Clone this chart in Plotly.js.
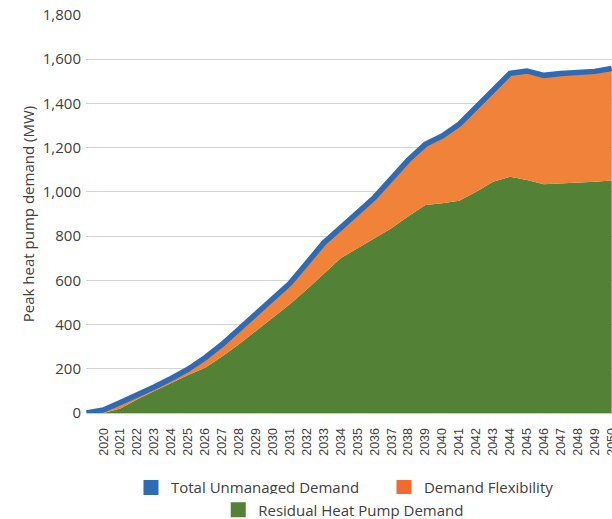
<!DOCTYPE html>
<html>
<head>
<meta charset="utf-8">
<script src="https://cdn.plot.ly/plotly-3.0.1.min.js"></script>
<style>
  body { margin: 0; overflow: hidden; background: #fff; }
  #graph { width: 612px; height: 519px; }
</style>
</head>
<body>
<div id="graph"></div>
<script>
// years on the axis (2019 is the unlabeled start at the left edge)
var years = [2019, 2020, 2021, 2022, 2023, 2024, 2025, 2026, 2027, 2028, 2029,
             2030, 2031, 2032, 2033, 2034, 2035, 2036, 2037, 2038, 2039,
             2040, 2041, 2042, 2043, 2044, 2045, 2046, 2047, 2048, 2049, 2050];

// MW values
var residualDemand = [0, 0, 20, 62, 100, 137, 172, 205, 255, 311, 371,
                      432, 492, 559, 628, 700, 745, 790, 835, 890, 941,
                      949, 960, 1001, 1046, 1069, 1054, 1035, 1038, 1040, 1046, 1051];
var demandFlexibility = [0, 14, 28, 18, 18, 19, 26, 45, 55, 68, 75,
                         80, 94, 118, 141, 137, 160, 185, 225, 255, 274,
                         304, 346, 380, 413, 467, 493, 492, 497, 500, 499, 507];
var totalUnmanaged = [0, 14, 48, 80, 118, 156, 198, 250, 310, 379, 446,
                      512, 586, 677, 769, 837, 905, 975, 1060, 1145, 1215,
                      1253, 1306, 1381, 1459, 1536, 1547, 1527, 1535, 1540, 1545, 1558];

var tickYears = [2020, 2021, 2022, 2023, 2024, 2025, 2026, 2027, 2028, 2029,
                 2030, 2031, 2032, 2033, 2034, 2035, 2036, 2037, 2038, 2039,
                 2040, 2041, 2042, 2043, 2044, 2045, 2046, 2047, 2048, 2049, 2050];
var tickLabels = ["2020", "2021", "2022", "2023", "2024", "2025", "2026", "2027", "2028", "2029",
                  "2030", "2031", "2032", "2033", "2034", "2035", "2036", "2037", "2038", "2039",
                  "2040", "2041", "2042", "2043", "2044", "2045", "2046", "2047", "2048", "2049", "2050"];

var blue = "#2d6bb4";
var orange = "#f0823a";
var green = "#538135";
var textColor = "#404040";

drawGraph();

function drawGraph()
{
    var residual = {
        x: years, y: residualDemand,
        type: "scatter", mode: "lines", stackgroup: "demand",
        line: {width: 0, color: green}, fillcolor: green,
        showlegend: false, hoverinfo: "skip"
    };
    var flex = {
        x: years, y: demandFlexibility,
        type: "scatter", mode: "lines", stackgroup: "demand",
        line: {width: 0, color: orange}, fillcolor: orange,
        showlegend: false, hoverinfo: "skip"
    };
    var total = {
        x: years, y: totalUnmanaged,
        type: "scatter", mode: "lines",
        line: {width: 5.5, color: blue},
        showlegend: false, hoverinfo: "skip"
    };

    // legend entries (square swatches like the original)
    var keyTotal = {x: [null], y: [null], type: "scatter", mode: "markers", name: "Total Unmanaged Demand",
        marker: {symbol: "square", size: 15, color: blue}, legend: "legend"};
    var keyFlex = {x: [null], y: [null], type: "scatter", mode: "markers", name: "Demand Flexibility",
        marker: {symbol: "square", size: 15, color: "#f26a30"}, legend: "legend"};
    var keyResidual = {x: [null], y: [null], type: "scatter", mode: "markers", name: "Residual Heat Pump Demand",
        marker: {symbol: "square", size: 15, color: green}, legend: "legend2"};

    var data = [residual, flex, total, keyTotal, keyFlex, keyResidual];

    var layout = {
        width: 612,
        height: 519,
        margin: {l: 86, r: 0, t: 15, b: 106, autoexpand: false},
        paper_bgcolor: "#ffffff",
        plot_bgcolor: "#ffffff",
        font: {family: "Open Sans, sans-serif", color: textColor},
        xaxis: {
            type: "linear",
            range: [2018.97, 2050.02],
            tickvals: tickYears,
            ticktext: tickLabels,
            tickangle: -90,
            tickfont: {family: "Liberation Sans, Arial, sans-serif", size: 12.5, color: textColor},
            ticks: "",
            ticklabelstandoff: 9,
            ticklabeloverflow: "allow",
            showgrid: false,
            zeroline: false,
            showline: true,
            linecolor: "#c8c8c8",
            linewidth: 1
        },
        yaxis: {
            range: [0, 1800],
            dtick: 200,
            tickformat: ",d",
            tickfont: {size: 15, color: textColor},
            ticks: "",
            ticklabelstandoff: 4,
            gridcolor: "#d4d4d4",
            gridwidth: 1.2,
            zeroline: false,
            title: {text: "Peak heat pump demand (MW)", font: {size: 15, color: textColor}, standoff: 4}
        },
        legend: {
            orientation: "h",
            traceorder: "normal",
            entrywidth: 208,
            x: 0.5665, xanchor: "center",
            y: -0.188, yanchor: "middle",
            font: {size: 15, color: textColor},
            itemclick: false, itemdoubleclick: false
        },
        legend2: {
            orientation: "h",
            traceorder: "normal",
            x: 0.49, xanchor: "center",
            y: -0.244, yanchor: "middle",
            font: {size: 15, color: textColor},
            itemclick: false, itemdoubleclick: false
        },
        showlegend: true
    };

    Plotly.newPlot("graph", data, layout, {displayModeBar: false, staticPlot: true});
}
</script>
</body>
</html>
